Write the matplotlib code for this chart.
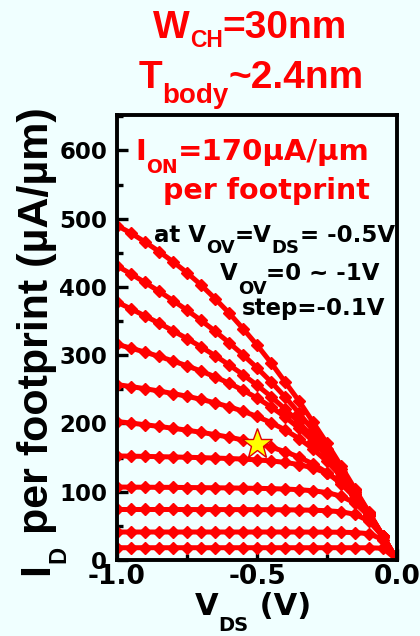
import matplotlib
matplotlib.use("Agg")
import matplotlib.pyplot as plt
from matplotlib.ticker import MultipleLocator

plt.rcParams['font.family'] = ['Liberation Sans', 'DejaVu Sans']
plt.rcParams['font.weight'] = 'bold'

# ---- data ----
vds = [-1.0, -0.95, -0.9, -0.85, -0.8, -0.75, -0.7, -0.65, -0.6, -0.55, -0.5,
       -0.45, -0.4, -0.35, -0.3, -0.25, -0.2, -0.15, -0.1, -0.05, 0.0]
vov_labels = [-1.0, -0.9, -0.8, -0.7, -0.6, -0.5, -0.4, -0.3, -0.2, -0.1, 0.0]
id_m10 = [490, 479, 466, 452, 437, 421, 403, 383, 362, 339, 315, 289, 261, 233, 202, 171, 138, 104, 70, 35, 0]
id_m09 = [431.0, 419.1, 406.6, 393.7, 380.2, 366.0, 351.1, 335.3, 318.5, 300.6, 281.6, 261.1, 239.1, 215.4, 189.9, 162.5, 133.1, 101.9, 69.0, 34.9, 0]
id_m08 = [377.9, 367.9, 357.6, 347.0, 335.9, 324.4, 312.3, 299.5, 286.0, 271.6, 256.2, 239.5, 221.3, 201.5, 179.6, 155.6, 129.0, 99.9, 68.4, 34.8, 0]
id_m07 = [316.0, 310.4, 304.6, 298.3, 291.6, 284.5, 276.8, 268.4, 259.1, 248.8, 237.4, 224.4, 209.8, 193.1, 174.0, 152.1, 127.2, 99.1, 68.1, 34.8, 0]
id_m06 = [257.0, 254.1, 251.0, 247.6, 243.9, 239.9, 235.4, 230.3, 224.5, 218.0, 210.3, 201.3, 190.7, 178.0, 162.8, 144.5, 122.7, 97.0, 67.5, 34.7, 0]
id_m05 = [202.9, 200.6, 198.2, 195.7, 193.0, 190.2, 187.1, 183.7, 180.0, 175.8, 171.0, 165.4, 158.8, 150.7, 140.7, 128.1, 111.9, 91.3, 65.4, 34.4, 0]
id_m04 = [152.5, 152.1, 151.8, 151.4, 151.0, 150.5, 150.0, 149.4, 148.7, 147.9, 146.7, 145.2, 143.0, 139.8, 134.9, 127.1, 114.5, 95.0, 67.7, 34.9, 0]
id_m03 = [106.9, 106.75, 106.6, 106.5, 106.4, 106.2, 106.0, 105.8, 105.6, 105.3, 105.0, 104.6, 104.0, 103.0, 101.5, 98.8, 93.6, 83.5, 64.2, 34.6, 0]
id_m02 = [74, 74, 74, 74, 74, 73.95, 73.9, 73.9, 73.86, 73.83, 73.8, 73.7, 73.55, 73.3, 72.95, 72.2, 70.7, 67.0, 57.1, 33.9, 0]
id_m01 = [41, 41, 41, 41, 41, 41, 41, 41, 41, 41, 41, 41, 41, 40.95, 40.9, 40.8, 40.7, 40.2, 38.6, 29.8, 0]
id_m00 = [18, 18, 18, 18, 18, 18, 18, 18, 18, 18, 18, 18, 18, 18, 18, 18, 18, 17.97, 17.9, 17.25, 0]
curves = [id_m10, id_m09, id_m08, id_m07, id_m06, id_m05, id_m04, id_m03, id_m02, id_m01, id_m00]
star_x = [-0.5]
star_y = [170]
xtick_vals = [-1.0, -0.5, 0.0]
xtick_labels = ['-1.0', '-0.5', '0.0']
ytick_vals = [0, 100, 200, 300, 400, 500, 600]
ytick_labels = ['0', '100', '200', '300', '400', '500', '600']

W, H = 420, 636
bg = '#F0FFFF'
red = '#FF0000'
fig = plt.figure(figsize=(W / 100, H / 100), dpi=100, facecolor=bg)
ax = fig.add_axes([117 / W, 1 - 560 / H, (397 - 117) / W, (560 - 115) / H])
ax.set_facecolor(bg)

for c in curves:
    ax.plot(vds, c, color=red, lw=3.6, marker='D', ms=6.3, mec=red, mfc=red)
ax.plot(star_x, star_y, marker='*', ms=23, mfc='#FFFF00', mec='#E00000', mew=1.0, ls='none', zorder=5)

ax.set_xlim(-1.0, 0.0)
ax.set_ylim(0, 652)
ax.xaxis.set_minor_locator(MultipleLocator(0.25))
ax.yaxis.set_minor_locator(MultipleLocator(50))
ax.set_xticks(xtick_vals)
ax.set_xticklabels(xtick_labels, fontfamily='DejaVu Sans', fontweight='bold', fontsize=19)
ax.set_yticks(ytick_vals)
ax.set_yticklabels(ytick_labels, fontfamily='DejaVu Sans', fontweight='bold', fontsize=16.5)
ax.tick_params(which='both', direction='in', width=2.4, colors='black')
ax.tick_params(which='major', length=8)
ax.tick_params(which='minor', length=4)
ax.tick_params(axis='y', pad=7)
ax.tick_params(axis='x', pad=3)
for s in ax.spines.values():
    s.set_linewidth(2.8)
    s.set_color('black')

renderer = fig.canvas.get_renderer()

def measure(s, size, family):
    t = fig.text(0, 0, s, fontsize=size, fontfamily=family, fontweight='bold')
    bb = t.get_window_extent(renderer)
    t.remove()
    return bb.width

def seq_text(x, y, segs, color, family, ha='left', rot=0):
    # segs: (string, fontsize, downward shift in px)
    widths = [measure(s, fs, family) for s, fs, dy in segs]
    total = sum(widths)
    cur = -total / 2 if ha == 'center' else 0
    for (s, fs, dy), w in zip(segs, widths):
        if rot == 0:
            px, py = x + cur, y + dy
        else:
            px, py = x + dy, y - cur
        fig.text(px / W, 1 - py / H, s, fontsize=fs, fontfamily=family, fontweight='bold',
                 color=color, ha='left', va='baseline', rotation=rot, rotation_mode='anchor')
        cur += w

LS = ['Liberation Sans', 'DejaVu Sans']
DV = ['DejaVu Sans']
seq_text(250, 38, [('W', 28, 0), ('CH', 16.5, 9), ('=30nm', 28, 0)], red, LS, ha='center')
seq_text(251, 88, [('T', 28, 0), ('body', 20, 15), ('~2.4nm', 28, 0)], red, LS, ha='center')
seq_text(135, 160, [('I', 21, 0), ('ON', 13.5, 13), ('=170µA/µm', 21, 0)], red, DV)
seq_text(163, 199, [('per footprint', 20.5, 0)], red, DV)
seq_text(154, 242, [('at V', 16.5, 0), ('OV', 13, 11), ('=V', 16.5, 0), ('DS', 13, 11), ('= -0.5V', 16.5, 0)], 'black', DV)
seq_text(220, 280, [('V', 16.5, 0), ('OV', 13, 14), ('=0 ~ -1V', 16.5, 0)], 'black', DV)
seq_text(242, 315, [('step=-0.1V', 16.5, 0)], 'black', DV)
seq_text(48, 575, [('I', 31, 0), ('D', 17, 17), (' per footprint (µA/µm)', 31, 0)], 'black', LS, rot=90)
seq_text(253, 615, [('V', 22, 0), ('DS', 14, 16), (' (V)', 22, 0)], 'black', DV, ha='center')

fig.savefig('out.png', dpi=100, facecolor=bg)
